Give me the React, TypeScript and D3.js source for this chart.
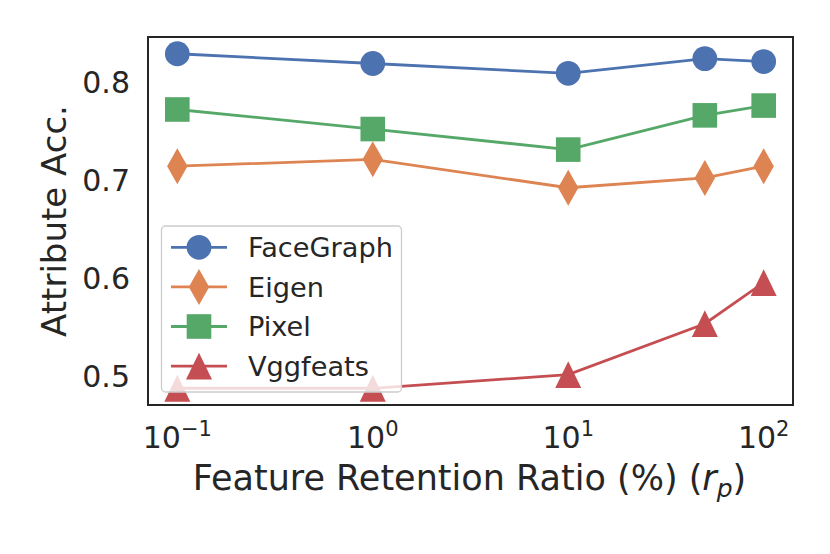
import * as d3 from 'd3'
import { useEffect } from 'react'

// values
const ratios = [0.1, 1, 10, 50, 100]
const faceGraph = [0.829, 0.819, 0.809, 0.824, 0.821]
const eigen = [0.714, 0.721, 0.692, 0.702, 0.714]
const pixel = [0.772, 0.752, 0.731, 0.766, 0.776]
const vggfeats = [0.487, 0.487, 0.501, 0.553, 0.595]
const seriesNames = ['FaceGraph', 'Eigen', 'Pixel', 'Vggfeats']
const seriesColors = ['#4C72B0', '#DD8452', '#55A868', '#C44E52']
const seriesMarkers: MarkerKind[] = ['circle', 'thinDiamond', 'square', 'triangle']
const yTicks = [0.5, 0.6, 0.7, 0.8]
const xTicks = [0.1, 1, 10, 100]
const xTickExponents = ['−1', '0', '1', '2']

type MarkerKind = 'circle' | 'thinDiamond' | 'square' | 'triangle'

const W = 830
const H = 554
const margin = { left: 148, right: 37, top: 37, bottom: 149 }
const FONT = '"DejaVu Sans", sans-serif'

function markerPath(kind: MarkerKind): string {
  const p = d3.path()
  if (kind === 'circle') {
    p.arc(0, 0, 12.4, 0, Math.PI * 2)
  } else if (kind === 'square') {
    p.rect(-12.3, -12.3, 24.6, 24.6)
  } else if (kind === 'thinDiamond') {
    p.moveTo(0, -18)
    p.lineTo(10.2, 0)
    p.lineTo(0, 18)
    p.lineTo(-10.2, 0)
    p.closePath()
  } else {
    p.moveTo(0, -13.4)
    p.lineTo(13, 13.4)
    p.lineTo(-13, 13.4)
    p.closePath()
  }
  return p.toString()
}

export default function App(): JSX.Element {
  useEffect(() => {
    document.body.style.margin = '0'
  }, [])

  const series = [faceGraph, eigen, pixel, vggfeats]
  const all = series.flat()
  const [lo, hi] = d3.extent(all) as [number, number]
  const pad = (hi - lo) * 0.05

  const x = d3
    .scaleLog()
    .domain([Math.pow(10, -1.15), Math.pow(10, 2.15)])
    .range([margin.left, W - margin.right])
  const y = d3
    .scaleLinear()
    .domain([lo - pad, hi + pad])
    .range([H - margin.bottom, margin.top])

  const line = d3
    .line<number>()
    .x((_, i) => x(ratios[i]))
    .y((v) => y(v))

  const plotW = W - margin.left - margin.right
  const plotH = H - margin.top - margin.bottom

  const legend = { x: 161.5, y: 226, w: 240, h: 166, rowGap: 39.6, firstRow: 21.3 }

  return (
    <svg width={W} height={H} style={{ display: 'block', background: '#fff' }} fontFamily={FONT}>
      <defs>
        <clipPath id="plot-clip">
          <rect x={margin.left} y={margin.top} width={plotW} height={plotH} />
        </clipPath>
      </defs>

      <g clipPath="url(#plot-clip)">
        {series.map((values, s) => (
          <g key={seriesNames[s]}>
            <path d={line(values) ?? ''} fill="none" stroke={seriesColors[s]} strokeWidth={2.8} />
            {values.map((v, i) => (
              <path
                key={i}
                d={markerPath(seriesMarkers[s])}
                transform={`translate(${x(ratios[i])},${y(v)})`}
                fill={seriesColors[s]}
              />
            ))}
          </g>
        ))}
      </g>

      {/* y tick labels */}
      {yTicks.map((t) => (
        <text key={t} x={margin.left - 18} y={y(t) + 11} textAnchor="end" fontSize={30} fill="#262626">
          {t.toFixed(1)}
        </text>
      ))}

      {/* x tick labels, 10^n */}
      {xTicks.map((t, i) => (
        <text key={t} x={x(t)} y={448} textAnchor="middle" fontSize={30} fill="#262626">
          10
          <tspan fontSize={21} dy={-11.6}>
            {xTickExponents[i]}
          </tspan>
        </text>
      ))}

      <text x={469.5} y={490} textAnchor="middle" fontSize={35} fill="#262626">
        Feature Retention Ratio (%) (
        <tspan fontStyle="italic">r</tspan>
        <tspan fontSize={25} fontStyle="italic" dy={7}>
          p
        </tspan>
        <tspan dy={-7}>)</tspan>
      </text>

      <text
        transform={`translate(66,${margin.top + plotH / 2}) rotate(-90)`}
        textAnchor="middle"
        fontSize={34}
        fill="#262626"
      >
        Attribute Acc.
      </text>

      {/* legend */}
      <g>
        <rect
          x={legend.x}
          y={legend.y}
          width={legend.w}
          height={legend.h}
          rx={4}
          fill="#fff"
          fillOpacity={0.8}
          stroke="#cccccc"
          strokeWidth={1.3}
        />
        {seriesNames.map((name, s) => {
          const cy = legend.y + legend.firstRow + s * legend.rowGap
          return (
            <g key={name}>
              <line x1={171} x2={227} y1={cy} y2={cy} stroke={seriesColors[s]} strokeWidth={2.8} />
              <path d={markerPath(seriesMarkers[s])} transform={`translate(199,${cy})`} fill={seriesColors[s]} />
              <text x={248} y={cy + 9.8} fontSize={27.2} fill="#262626">
                {name}
              </text>
            </g>
          )
        })}
      </g>

      {/* axes frame */}
      <rect
        x={margin.left}
        y={margin.top}
        width={plotW}
        height={plotH}
        fill="none"
        stroke="#262626"
        strokeWidth={2}
      />
    </svg>
  )
}
